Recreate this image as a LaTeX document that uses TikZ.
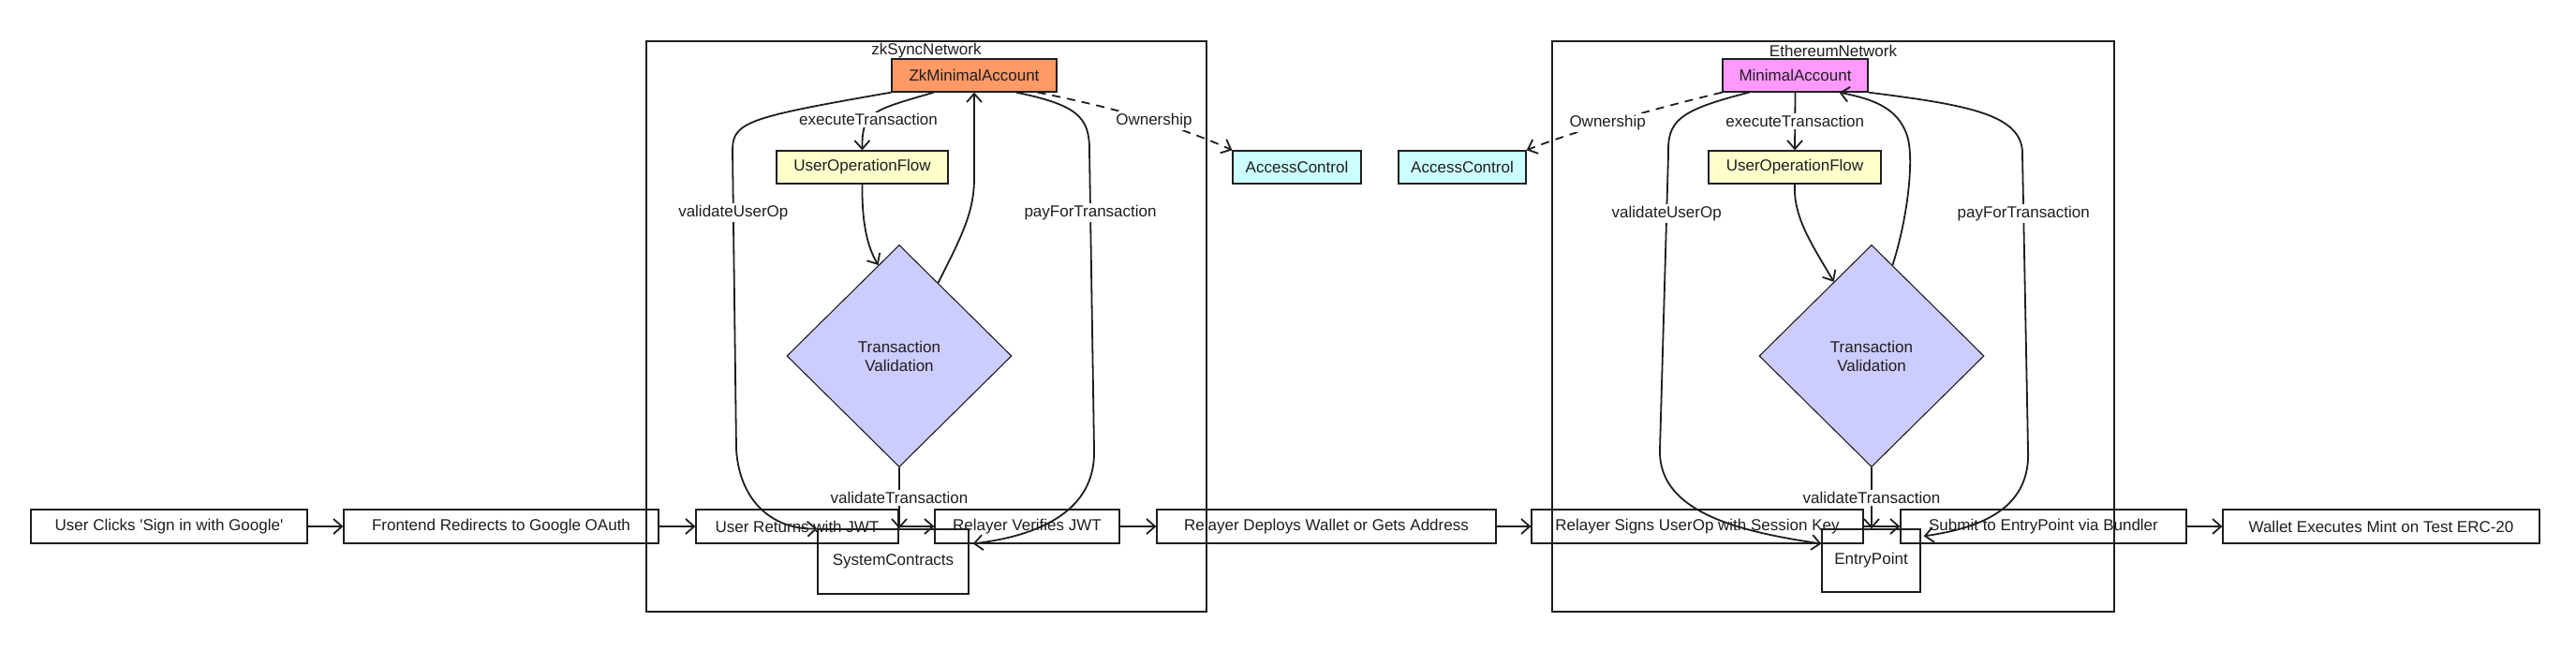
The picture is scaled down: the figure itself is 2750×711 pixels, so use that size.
\documentclass[tikz,border=0pt]{standalone}
\usepackage{fontspec}
\setmainfont{Liberation Sans}
\usetikzlibrary{shapes.geometric,arrows.meta,calc}

\definecolor{ink}{HTML}{1E1E1E}
\definecolor{zkorange}{HTML}{FF9966}
\definecolor{ethpink}{HTML}{FF99FF}
\definecolor{flowyellow}{HTML}{FFFFCC}
\definecolor{accesscyan}{HTML}{CCFFFF}
\definecolor{checkblue}{HTML}{CCCCFF}

\tikzset{
  box/.style={draw=ink,line width=1.3pt,minimum height=35pt,inner sep=2pt,text=ink},
  rowbox/.style={box,minimum height=36pt},
  net/.style={draw=ink,line width=1.4pt},
  check/.style={diamond,draw=ink,fill=checkblue,line width=1.1pt,align=center,
    minimum width=240pt,minimum height=237pt,inner sep=0pt,text=ink},
  lbl/.style={fill=white,inner sep=2pt,text=ink},
  flow/.style={draw=ink,line width=1.8pt,->},
  own/.style={flow,dash pattern=on 9pt off 7pt},
}

\begin{document}
\begin{tikzpicture}[x=1pt,y=-1pt,>={Straight Barb[length=9pt,width=16pt]},
  font=\fontsize{17}{20}\selectfont]
  \useasboundingbox (0,0) rectangle (2750,711);

  % the two networks
  \draw[net] (690,44) rectangle (1288,653);
  \draw[net] (1657,44) rectangle (2257,653);
  \node[text=ink] (zknet) at (989,54) {zkSyncNetwork};
  \node[text=ink] (ethnet) at (1957,54) {EthereumNetwork};

  % zkSync side
  \node[box,fill=zkorange,minimum width=176pt] (zkacc) at (1040,80.5) {ZkMinimalAccount};
  \node[box,fill=flowyellow,minimum width=183pt] (zkuof) at (920.5,178.5) {UserOperationFlow};
  \node[check] (zkval) at (960,380) {Transaction\\Validation};
  \node[box,minimum width=161pt,minimum height=69pt] (zksys) at (953.5,599.5) {SystemContracts};
  \node[box,fill=accesscyan,minimum width=137pt] (zkac) at (1384.5,178.5) {AccessControl};

  % Ethereum side
  \node[box,fill=accesscyan,minimum width=136pt] (ethac) at (1561,178.5) {AccessControl};
  \node[box,fill=ethpink,minimum width=155pt] (ethacc) at (1916.5,80.5) {MinimalAccount};
  \node[box,fill=flowyellow,minimum width=184pt] (ethuof) at (1916,178.5) {UserOperationFlow};
  \node[check] (ethval) at (1998,380) {Transaction\\Validation};
  \node[box,minimum width=105pt,minimum height=67pt] (ethep) at (1997.5,598.5) {EntryPoint};

  % login flow
  \node[rowbox,minimum width=295pt] (click) at (180.5,562) {User Clicks \textquotesingle Sign in with Google\textquotesingle};
  \node[rowbox,minimum width=336pt] (redirect) at (535,562) {Frontend Redirects to Google OAuth};
  \node[rowbox,minimum width=216pt] (back) at (851,562) {User Returns with JWT};
  \node[rowbox,minimum width=197pt] (verify) at (1096.5,562) {Relayer Verifies JWT};
  \node[rowbox,minimum width=362pt] (deploy) at (1416,562) {Relayer Deploys Wallet or Gets Address};
  \node[rowbox,minimum width=354pt] (sign) at (1812,562) {Relayer Signs UserOp with Session Key};
  \node[rowbox,minimum width=305pt] (submit) at (2181.5,562) {Submit to EntryPoint via Bundler};
  \node[rowbox,minimum width=338pt] (mint) at (2542,562) {Wallet Executes Mint on Test ERC-20};

  \draw[flow] (click) -- (redirect);
  \draw[flow] (redirect) -- (back);
  \draw[flow] (back) -- (verify);
  \draw[flow] (verify) -- (deploy);
  \draw[flow] (deploy) -- (sign);
  \draw[flow] (sign) -- (submit);
  \draw[flow] (submit) -- (mint);

  % zkSync calls
  \draw[flow] (zkacc.south west) .. controls (800,125) and (782,130) .. (782,160)
    -- node[lbl,pos=0.21] {validateUserOp} (786,480)
    .. controls (790,540) and (830,566) .. (zksys.north west);
  \draw[flow] ($(zkacc.south east)+(-44,0)$) .. controls (1150,112) and (1163,125) .. (1163,160)
    -- node[lbl,pos=0.21] {payForTransaction} (1168,480)
    .. controls (1170,545) and (1110,572) .. ($(zksys.north east)+(4,16)$);
  \draw[flow] ($(zkacc.south)+(-43,0)$) .. controls (930,118) and (920,120) ..
    node[lbl,pos=0.62] {executeTransaction} (zkuof.north);
  \draw[flow] (zkuof.south) .. controls (920,235) and (925,262) .. (zkval.103);
  \draw[flow] (zkval.62) .. controls (1028,250) and (1040,225) .. (1040,190) -- (zkacc.south);
  \draw[flow] (zkval.south) -- node[lbl] {validateTransaction} (zkval.south |- zksys.north);
  \draw[own] ($(zkacc.south east)+(-21,0)$) .. controls (1190,115) and (1260,135) ..
    node[lbl,pos=0.55] {Ownership} (zkac.north west);

  % Ethereum calls
  \draw[flow] (ethacc.south) -- node[lbl] {executeTransaction} (ethuof.north);
  \draw[flow] ($(ethacc.south west)+(29,0)$) .. controls (1790,118) and (1780,130) .. (1781,165)
    -- node[lbl,pos=0.2] {validateUserOp} (1772,480)
    .. controls (1770,548) and (1860,568) .. ($(ethep.west)+(0,-18)$);
  \draw[flow] (ethacc.south east) .. controls (2100,112) and (2160,122) .. (2159,165)
    -- node[lbl,pos=0.2] {payForTransaction} (2165,480)
    .. controls (2168,540) and (2120,563) .. ($(ethep.north east)+(3,8)$);
  \draw[flow] (ethuof.south) .. controls (1914,232) and (1935,262) .. (ethval.117);
  \draw[flow] (ethval.77) .. controls (2036,235) and (2044,170) .. (2036,145)
    .. controls (2026,115) and (2000,106) .. ($(ethacc.south)+(47,0)$);
  \draw[flow] (ethval.south) -- node[lbl] {validateTransaction} (ethval.south |- ethep.north);
  \draw[own] (ethacc.south west) .. controls (1770,115) and (1680,140) ..
    node[lbl,pos=0.55] {Ownership} (ethac.north east);
\end{tikzpicture}
\end{document}
